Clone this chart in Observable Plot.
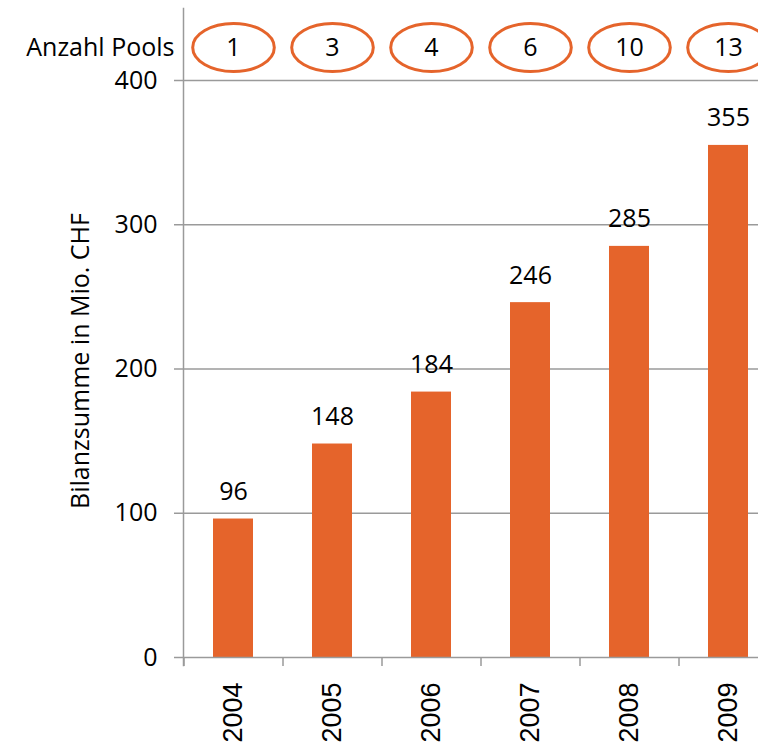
<!DOCTYPE html>
<html>
<head>
<meta charset="utf-8">
<script src="https://cdn.jsdelivr.net/npm/d3@7"></script>
<script src="https://cdn.jsdelivr.net/npm/@observablehq/plot@0.6"></script>
<style>
  html, body { margin: 0; padding: 0; background: white; overflow: hidden; }
  #chart svg { overflow: hidden; }
</style>
</head>
<body>
<div id="chart"></div>
<script>
const years = ["2004", "2005", "2006", "2007", "2008", "2009"];
const totals = [96, 148, 184, 246, 285, 355];
const pools = [1, 3, 4, 6, 10, 13];
const yTicks = [0, 100, 200, 300, 400];
const yTitle = "Bilanzsumme in Mio. CHF";
const poolsLabel = "Anzahl Pools";

const data = years.map((y, i) => ({year: y, total: totals[i], pools: pools[i]}));

const orange = "#E5642B";
const gray = "#9a9a9a";
const font = "'Open Sans', sans-serif";

const ellipse = {
  draw(ctx, size) {
    const ry = Math.sqrt(size / Math.PI);
    const rx = ry * 1.7;
    const k = 0.5523;
    ctx.moveTo(rx, 0);
    ctx.bezierCurveTo(rx, k * ry, k * rx, ry, 0, ry);
    ctx.bezierCurveTo(-k * rx, ry, -rx, k * ry, -rx, 0);
    ctx.bezierCurveTo(-rx, -k * ry, -k * rx, -ry, 0, -ry);
    ctx.bezierCurveTo(k * rx, -ry, rx, -k * ry, rx, 0);
    ctx.closePath();
  }
};

const chart = Plot.plot({
  width: 758,
  height: 745,
  marginTop: 80,
  marginBottom: 88,
  marginLeft: 183,
  marginRight: -19,
  style: {fontFamily: font, color: "black", background: "white"},
  x: {domain: years, paddingInner: 0.6, paddingOuter: 0.3},
  y: {domain: [0, 400]},
  marks: [
    Plot.ruleY(yTicks.filter(d => d > 0), {stroke: gray, strokeWidth: 1.5}),
    Plot.barY(data, {x: "year", y: "total", fill: orange}),
    Plot.ruleY([0], {stroke: gray, strokeWidth: 1.5}),
    Plot.frame({anchor: "left", stroke: gray, strokeWidth: 1.5, insetTop: -72, insetBottom: -8}),
    Plot.axisY({ticks: yTicks, tickSize: 9, tickPadding: 17, fontSize: 25, stroke: gray, strokeWidth: 1.5, fill: "black", label: null, fontFamily: font}),
    Plot.axisX({ticks: years, tickSize: 9, tickFormat: () => "", dx: -49.5, stroke: gray, strokeWidth: 1.5, label: null}),
    Plot.axisX({ticks: years, tickSize: 0, tickPadding: 25, tickRotate: -90, fontSize: 27, fontFamily: "'Liberation Sans', Arial, sans-serif", fill: "black", label: null}),
    Plot.text(data, {x: "year", y: "total", text: d => String(d.total), dy: -27, fontSize: 25, fill: "black", lineAnchor: "middle"}),
    Plot.dot(data, {x: "year", frameAnchor: "top", dy: -33, r: 24, symbol: ellipse, stroke: orange, strokeWidth: 3, fill: "white"}),
    Plot.text(data, {x: "year", text: d => String(d.pools), frameAnchor: "top", lineAnchor: "middle", dy: -33, fontSize: 25, fill: "black"}),
    Plot.text([poolsLabel], {frameAnchor: "top-left", textAnchor: "end", lineAnchor: "middle", dx: -9, dy: -33, fontSize: 25, fill: "black"}),
    Plot.text([yTitle], {frameAnchor: "left", textAnchor: "middle", lineAnchor: "middle", rotate: -90, dx: -103, dy: -8, fontSize: 25, fill: "black"})
  ]
});

document.getElementById("chart").appendChild(chart);
</script>
</body>
</html>
